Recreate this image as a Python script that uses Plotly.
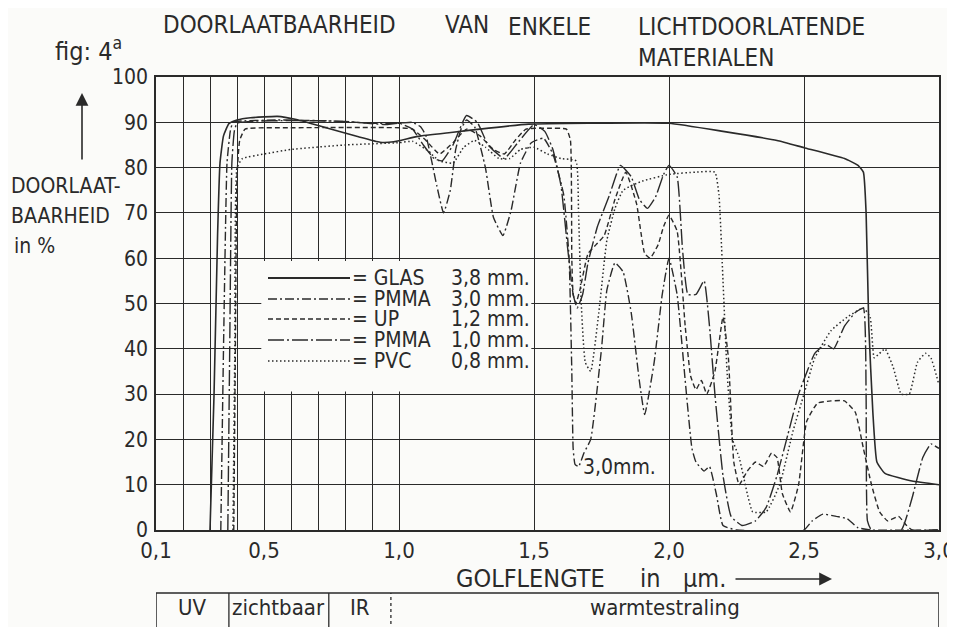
import plotly.graph_objects as go

# ---------------- data ----------------
glas_wl = [0.30, 0.315, 0.328, 0.337, 0.35, 0.37, 0.40, 0.45, 0.55, 0.62, 0.73, 0.85, 0.93, 0.98,
           1.07, 1.2, 1.3, 1.48, 1.7, 2.0, 2.2, 2.4, 2.5, 2.65, 2.70, 2.72, 2.73, 2.74, 2.755,
           2.77, 2.80, 2.9, 3.0]
glas_t = [0, 30, 65, 81, 87, 89.7, 90.5, 91, 91.3, 90.6, 88.8, 86.8, 85.6, 85.7,
          86.9, 87.8, 88.5, 89.6, 89.8, 89.8, 88, 86, 84.4, 82, 80.5, 79, 70, 45, 26,
          15, 12.5, 10.8, 10]

pmma30_wl = [0.34, 0.35, 0.363, 0.375, 0.385, 0.42, 0.55, 0.75, 0.9, 1.0, 1.05, 1.08, 1.1, 1.14,
             1.165, 1.19, 1.21, 1.23, 1.25, 1.28, 1.32, 1.35, 1.385, 1.415, 1.45, 1.49, 1.535,
             1.57, 1.61, 1.63, 1.64, 1.645, 1.652, 1.665, 1.685, 1.71, 1.75, 1.77, 1.80, 1.83,
             1.86, 1.89, 1.91, 1.945, 1.975, 2.0, 2.03, 2.06, 2.085, 2.10, 2.13, 2.15, 2.175,
             2.20, 2.25, 2.5, 2.53, 2.57, 2.62, 2.66, 2.70, 2.75, 3.0]
pmma30_t = [0, 40, 81, 88, 90, 90.3, 90.5, 90.3, 89.8, 89.8, 90, 89, 87, 76,
            70, 75, 84, 88.5, 90.5, 89, 80, 69, 65, 70.5, 81, 85.5, 86.5,
            83, 74, 60, 35, 18, 14.5, 14, 17, 20, 40, 53, 59, 57,
            48, 33, 25.5, 37, 52, 60, 52, 33, 18, 15, 13, 14, 8,
            1, 0, 0, 2, 3.5, 3, 2.5, 0.5, 0, 0]

up_wl = [0.388, 0.394, 0.40, 0.41, 0.43, 0.6, 1.0, 1.05, 1.1, 1.15, 1.2, 1.25, 1.3, 1.35, 1.39,
         1.43, 1.47, 1.55, 1.62, 1.635, 1.64, 1.645, 1.655, 1.67, 1.70, 1.73, 1.76, 1.8, 1.84,
         1.88, 1.91, 1.93, 1.96, 1.98, 2.0, 2.03, 2.06, 2.08, 2.1, 2.12, 2.14, 2.17, 2.2, 2.22,
         2.24, 2.26, 2.29, 2.32, 2.35, 2.38, 2.4, 2.42, 2.45, 2.48, 2.51, 2.55, 2.6, 2.65, 2.69,
         2.72, 2.75, 2.78, 2.81, 2.85, 2.88, 2.9, 3.0]
up_t = [0, 40, 78, 86, 88.5, 88.8, 88.8, 88.5, 86, 83, 85.5, 88.5, 87, 84, 83,
        86, 88.5, 88.7, 88.5, 86, 60, 52, 50, 53, 61, 63, 65, 73, 79,
        72, 61, 60, 63, 67, 69.5, 66, 45, 34, 31, 33, 30, 35, 47, 38,
        15, 10, 13, 15, 14, 17, 16, 8, 4, 10, 24, 28, 28.5, 28.5, 26,
        18, 10, 4, 2, 3, 1, 0, 0]

pmma10_wl = [0.366, 0.373, 0.381, 0.39, 0.40, 0.45, 0.6, 0.8, 0.95, 1.0, 1.05, 1.09, 1.13, 1.16,
             1.2, 1.25, 1.29, 1.33, 1.39, 1.44, 1.5, 1.54, 1.57, 1.6, 1.625, 1.645, 1.66, 1.68,
             1.70, 1.735, 1.78, 1.82, 1.86, 1.89, 1.92, 1.95, 1.98, 2.0, 2.03, 2.05, 2.07, 2.1,
             2.13, 2.15, 2.17, 2.2, 2.23, 2.27, 2.32, 2.36, 2.40, 2.44, 2.48, 2.54, 2.58, 2.61,
             2.65, 2.69, 2.72, 2.73, 2.735, 2.75, 2.86, 2.9, 2.94, 2.97, 3.0]
pmma10_t = [0, 40, 81, 88, 89.8, 90.2, 90.4, 90.2, 89.5, 89.8, 88.5, 85, 82, 81.5,
            85, 91.5, 90, 85, 82, 85.5, 89.5, 88, 84, 76, 62, 52, 49, 52,
            59, 67, 74, 80.5, 78, 73, 71, 73.5, 78.5, 80.5, 78, 62, 52, 52,
            55, 45, 30, 12, 3, 1, 2, 5, 12, 21, 30, 39, 41, 40,
            45, 48, 49, 30, 2, 0, 0, 7, 16, 19, 18]

pvc_wl = [0.385, 0.392, 0.40, 0.42, 0.5, 0.6, 0.8, 1.0, 1.05, 1.1, 1.15, 1.2, 1.24, 1.28, 1.32,
          1.37, 1.41, 1.45, 1.5, 1.55, 1.6, 1.655, 1.665, 1.675, 1.69, 1.71, 1.74, 1.77, 1.80,
          1.83, 1.9, 2.0, 2.1, 2.17, 2.185, 2.2, 2.215, 2.235, 2.26, 2.29, 2.31, 2.36, 2.41,
          2.46, 2.5, 2.54, 2.6, 2.66, 2.72, 2.745, 2.76, 2.78, 2.8, 2.83, 2.86, 2.89, 2.92,
          2.95, 2.97, 3.0]
pvc_t = [0, 40, 80, 82, 83, 84, 85, 85.5, 85.8, 84, 81.5, 81, 84.5, 86, 84.5,
         82, 82, 84, 84.5, 83, 82, 81.5, 70, 50, 37, 35, 48, 64, 71,
         75, 77, 78.5, 79, 79, 74, 55, 35, 20, 16, 8, 4, 4, 10,
         22, 30, 38, 44, 47, 49, 47, 38, 39, 40, 36, 30, 30, 37,
         39, 38, 32]

series_names = ["GLAS", "PMMA", "UP", "PMMA", "PVC"]
series_thick = ["3,8 mm.", "3,0 mm.", "1,2 mm.", "1,0 mm.", "0,8 mm."]

x_tick_vals = [0.1, 0.5, 1.0, 1.5, 2.0, 2.5, 3.0]
x_tick_text = ["0,1", "0,5", "1,0", "1,5", "2,0", "2,5", "3,0"]
x_minor_vals = [0.2, 0.3, 0.4, 0.6, 0.7, 0.8, 0.9]
y_tick_vals = [0, 10, 20, 30, 40, 50, 60, 70, 80, 90, 100]
y_tick_text = ["0", "10", "20", "30", "40", "50", "60", "70", "80", "90", "100"]

band_edges = [0.1, 0.37, 0.74, 0.97, 3.0]
band_labels = ["UV", "zichtbaar", "IR", "warmtestraling"]

# ---------------- styling ----------------
OFF = 8                       # page margin of the html body
W, H = 955 - OFF, 627 - OFF   # figure size so that it ends at the window edge
PL, PR, PT, PB = 156, 939, 77, 530   # plot area in page pixels
INK = "#2a2a2a"
BG = "#fbfbf9"
FONT = "DejaVu Sans Condensed, DejaVu Sans, sans-serif"

def px(x):
    return (x - PL) / (PR - PL)

def py(y):
    return (PB - y) / (PB - PT)

dashes = ["solid", "9px,3px,2px,3px", "5px,3px", "16px,3px,2px,3px", "1.5px,2.5px"]
widths = [1.6, 1.4, 1.4, 1.4, 1.5]
all_wl = [glas_wl, pmma30_wl, up_wl, pmma10_wl, pvc_wl]
all_t = [glas_t, pmma30_t, up_t, pmma10_t, pvc_t]

fig = go.Figure()
for i in range(5):
    fig.add_trace(go.Scatter(
        x=all_wl[i], y=all_t[i], mode="lines",
        name=f"{series_names[i]} {series_thick[i]}",
        line=dict(color=INK, width=widths[i], dash=dashes[i], shape="spline", smoothing=0.4),
        showlegend=False, hoverinfo="skip"))

shapes = []
annotations = []

# blank legend panel (hides grid under the legend)
shapes.append(dict(type="rect", xref="x", yref="y", x0=0.49, x1=1.49, y0=30.6, y1=59.4,
                   fillcolor=BG, line=dict(width=0), layer="between"))

# manual legend
rows_py = [278, 299, 319, 340, 361]
for i in range(5):
    yy = py(rows_py[i])
    shapes.append(dict(type="line", xref="paper", yref="paper", x0=px(268), x1=px(350),
                       y0=yy, y1=yy, line=dict(color=INK, width=widths[i] + 0.2,
                       dash=dashes[i]), layer="above"))
    annotations.append(dict(xref="paper", yref="paper", x=px(350), y=yy, xanchor="left",
                            yanchor="middle", showarrow=False,
                            text="= " + series_names[i], font=dict(family=FONT, size=21, color=INK)))
    annotations.append(dict(xref="paper", yref="paper", x=px(449), y=yy, xanchor="left",
                            yanchor="middle", showarrow=False,
                            text=series_thick[i], font=dict(family=FONT, size=21, color=INK)))

# label on PMMA 3.0 curve
annotations.append(dict(xref="paper", yref="paper", x=px(581), y=py(467), xanchor="left",
                        yanchor="middle", showarrow=False, text="3,0mm.",
                        font=dict(family=FONT, size=21, color=INK)))

# title words
for txt, xl, yc in [("DOORLAATBAARHEID", 161, 25), ("VAN", 443, 25), ("ENKELE", 506, 27),
                    ("LICHTDOORLATENDE", 636, 27), ("MATERIALEN", 636, 58)]:
    annotations.append(dict(xref="paper", yref="paper", x=px(xl), y=py(yc), xanchor="left",
                            yanchor="middle", showarrow=False, text=txt,
                            font=dict(family=FONT, size=24, color=INK)))

annotations.append(dict(xref="paper", yref="paper", x=px(53), y=py(50), xanchor="left",
                        yanchor="middle", showarrow=False, text="fig: 4<sup>a</sup>",
                        font=dict(family=FONT, size=25, color=INK)))

# y-axis label
for txt, xl, yc in [("DOORLAAT-", 9, 186), ("BAARHEID", 9, 216), ("in %", 12, 246)]:
    annotations.append(dict(xref="paper", yref="paper", x=px(xl), y=py(yc), xanchor="left",
                            yanchor="middle", showarrow=False, text=txt,
                            font=dict(family=FONT, size=21, color=INK)))
annotations.append(dict(xref="paper", yref="paper", x=px(82), y=py(93), ax=0, ay=68,
                        text="", showarrow=True, arrowhead=2, arrowsize=1.6, arrowwidth=1.6,
                        arrowcolor=INK))

# x-axis label
for txt, xl in [("GOLFLENGTE", 454), ("in", 638), ("µm.", 681)]:
    annotations.append(dict(xref="paper", yref="paper", x=px(xl), y=py(578), xanchor="left",
                            yanchor="middle", showarrow=False, text=txt,
                            font=dict(family=FONT, size=25, color=INK)))
annotations.append(dict(xref="paper", yref="paper", x=px(832), y=py(579), ax=-98, ay=0,
                        text="", showarrow=True, arrowhead=2, arrowsize=1.6, arrowwidth=1.6,
                        arrowcolor=INK))

# spectral band strip
band_top = py(593)
band_bot = py(660)
shapes.append(dict(type="rect", xref="x", yref="paper", x0=band_edges[0], x1=band_edges[-1],
                   y0=band_bot, y1=band_top, line=dict(color=INK, width=1.5),
                   fillcolor="rgba(0,0,0,0)"))
for j in range(1, len(band_edges) - 1):
    shapes.append(dict(type="line", xref="x", yref="paper", x0=band_edges[j], x1=band_edges[j],
                       y0=band_bot, y1=band_top,
                       line=dict(color=INK, width=1.3, dash="solid" if j < 3 else "dot")))
for j, lab in enumerate(band_labels):
    annotations.append(dict(xref="x", yref="paper", x=(band_edges[j] + band_edges[j + 1]) / 2,
                            y=py(607), xanchor="center", yanchor="middle", showarrow=False,
                            text=lab, font=dict(family=FONT, size=22, color=INK)))

fig.update_layout(
    width=W, height=H,
    margin=dict(l=PL - OFF, r=W - (PR - OFF), t=PT - OFF, b=H - (PB - OFF), autoexpand=False),
    paper_bgcolor=BG, plot_bgcolor=BG,
    shapes=shapes, annotations=annotations,
    showlegend=False,
)
fig.update_xaxes(
    range=[0.1, 3.0], tickmode="array", tickvals=x_tick_vals, ticktext=x_tick_text,
    showgrid=True, gridcolor=INK, gridwidth=1.1, showline=True, linecolor=INK, linewidth=1.6,
    mirror=True, ticks="", zeroline=False, ticklabeloverflow="allow",
    tickfont=dict(family=FONT, size=22, color=INK),
    minor=dict(tickmode="array", tickvals=x_minor_vals, showgrid=True, gridcolor=INK, gridwidth=1.0),
)
fig.update_yaxes(
    range=[0, 100], tickmode="array", tickvals=y_tick_vals, ticktext=y_tick_text,
    showgrid=True, gridcolor=INK, gridwidth=1.1, showline=True, linecolor=INK, linewidth=1.6,
    mirror=True, ticks="", zeroline=False, ticklabelstandoff=2,
    tickfont=dict(family=FONT, size=21, color=INK),
)

fig.write_html("out.html")
